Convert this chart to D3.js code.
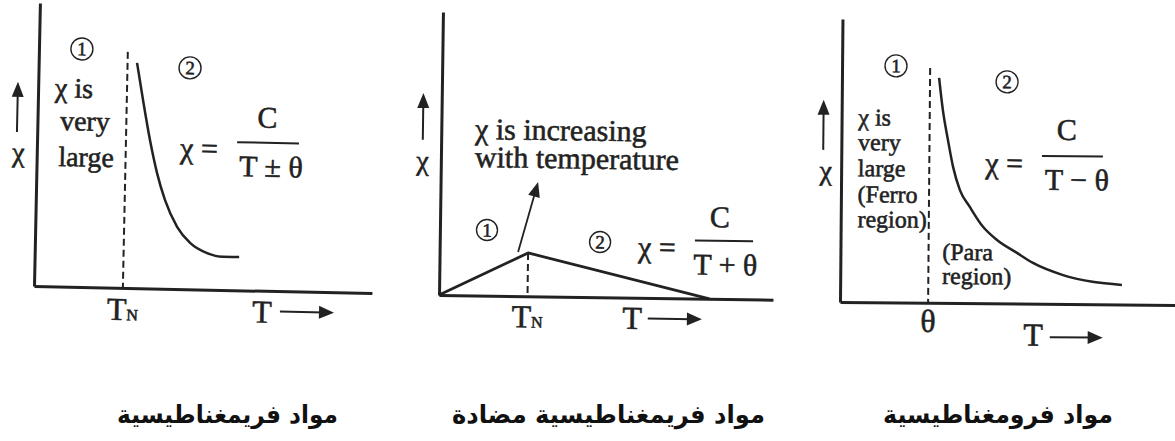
<!DOCTYPE html>
<html>
<head>
<meta charset="utf-8">
<script src="https://cdn.jsdelivr.net/npm/d3@7"></script>
<style>
  html, body { margin: 0; padding: 0; background: #fff; }
  svg { display: block; }
  text { font-family: "Liberation Serif", "DejaVu Serif", serif; fill: #222; stroke: #222; stroke-width: 0.55px; }
  text.ar { font-family: "DejaVu Sans", sans-serif; font-weight: bold; stroke: none; fill: #111; }
</style>
</head>
<body>
<svg id="chart" width="1175" height="441"></svg>
<script>
// Susceptibility χ against temperature T, arbitrary units on 0–100 axes
const ferriT   = [29.1, 31.1, 33.4, 35.7, 38.2, 42.0, 45.9, 51.0, 55.7, 60.5];
const ferriChi = [79.6, 66.5, 52.4, 40.8, 31.4, 21.9, 16.4, 12.9, 11.7, 11.8];

const antiT    = [0, 26.5, 81];
const antiChi  = [0, 15.3, 0];

const ferroT   = [29.0, 30.2, 31.8, 33.4, 35.5, 38.5, 42.5, 46.7, 52.7, 57.5, 66.5, 84.1];
const ferroChi = [79.5, 68.2, 57.6, 48.1, 39.9, 34.0, 27.0, 22.4, 17.9, 14.4, 10.2, 6.9];

// transition temperature of each material and the height of its dashed guide
const transitionT   = [26.3, 26.5, 26.3];
const transitionTop = [83.4, 15.3, 83.0];

// tick labels under the transition temperature
const tickNames = ["T", "T", "θ"];
const tickSubs  = ["N", "N", ""];

const panelTitles = ["مواد فريمغناطيسية", "مواد فريمغناطيسية مضادة", "مواد فرومغناطيسية"];

const series = [
  d3.zip(ferriT, ferriChi),
  d3.zip(antiT, antiChi),
  d3.zip(ferroT, ferroChi)
];

const INK = "#222";
const svg = d3.select("#chart");

// panel frames and the placement of their annotations (in axis units)
const panels = [
  {
    left: 34, bottom: 286, width: 338, height: 283, angle: 1.2,
    curve: d3.curveMonotoneX, stroke: 2.5,
    yArrow: { x: -6, y0: 54.3, y1: 72.0 }, chi: { x: -5.4, y: 43.8, size: 28 },
    circles: [{ n: "1", x: 12.7, y: 84.1 }, { n: "2", x: 44.8, y: 78.2 }], r: 11,
    notes: [
      { t: "χ is", x: 5.0, y: 66.9 },
      { t: "very", x: 6.7, y: 55.3 },
      { t: "large", x: 6.4, y: 42.6 }
    ], noteSize: 28,
    formula: { eqX: 42.4, eqY: 46.3, numX: 68.0, numY: 57.6, barX0: 59.2, barX1: 77.5, barY: 52.3,
               den: "T ± θ", denX: 69.4, denY: 40.3, size: 30 },
    tick: { y: -11.4, size: 32 },
    tAxis: { tx: 64.7, ty: -11.3, ax0: 72.9, ax1: 88.9, ay: -7.2 },
    title: { cx: 227.5, w: 221 }
  },
  {
    left: 439, bottom: 295, width: 334, height: 283, angle: 0.8,
    curve: d3.curveLinear, stroke: 2.8,
    yArrow: { x: -5.5, y0: 54.8, y1: 71.3 }, chi: { x: -5.5, y: 44.1, size: 28 },
    circles: [{ n: "1", x: 14.1, y: 23.2 }, { n: "2", x: 48.0, y: 19.5 }], r: 10.5,
    notes: [
      { t: "χ is increasing", x: 10.1, y: 55.3 },
      { t: "with temperature", x: 10.2, y: 45.4 }
    ], noteSize: 30,
    pointer: { x0: 23.5, y0: 15.6, x1: 29.2, y1: 40.4 },
    formula: { eqX: 59.4, eqY: 14.4, numX: 83.8, numY: 25.4, barX0: 76.4, barX1: 93.8, barY: 20.5,
               den: "T + θ", denX: 85.6, denY: 8.5, size: 30 },
    tick: { y: -11.0, size: 32 },
    tAxis: { tx: 55.0, ty: -11.0, ax0: 62.6, ax1: 78.8, ay: -7.3 },
    title: { cx: 608.5, w: 313 }
  },
  {
    left: 840, bottom: 302, width: 335, height: 283, angle: 0.5,
    curve: d3.curveMonotoneX, stroke: 2.5,
    yArrow: { x: -5.4, y0: 53.7, y1: 71.4 }, chi: { x: -4.6, y: 43.1, size: 28 },
    circles: [{ n: "1", x: 16.1, y: 83.6 }, { n: "2", x: 49.3, y: 78.3 }], r: 11,
    notes: [
      { t: "χ is", x: 5.0, y: 62.5 },
      { t: "very", x: 5.0, y: 53.7 },
      { t: "large", x: 5.0, y: 44.5 },
      { t: "(Ferro", x: 5.0, y: 35.3 },
      { t: "region)", x: 5.0, y: 26.5 },
      { t: "(Para", x: 30.4, y: 15.2 },
      { t: "region)", x: 30.4, y: 6.7 }
    ], noteSize: 24,
    formula: { eqX: 43.0, eqY: 46.0, numX: 67.3, numY: 58.0, barX0: 59.9, barX1: 78.1, barY: 52.2,
               den: "T − θ", denX: 70.4, denY: 40.3, size: 30 },
    tick: { y: -10.3, size: 32 },
    tAxis: { tx: 54.8, ty: -14.8, ax0: 62.7, ax1: 78.5, ay: -11.8 },
    title: { cx: 998, w: 230 }
  }
];

function arrowHead(g, x1, y1, x0, y0, len, half) {
  // filled triangle pointing from (x0,y0) towards (x1,y1)
  const a = Math.atan2(y1 - y0, x1 - x0);
  const bx = x1 - len * Math.cos(a), by = y1 - len * Math.sin(a);
  const px = -Math.sin(a) * half, py = Math.cos(a) * half;
  g.append("path")
    .attr("d", `M${x1},${y1}L${bx + px},${by + py}L${bx - px},${by - py}Z`)
    .attr("fill", INK);
}

panels.forEach((p, i) => {
  const x = d3.scaleLinear().domain([0, 100]).range([p.left, p.left + p.width]);
  const y = d3.scaleLinear().domain([0, 100]).range([p.bottom, p.bottom - p.height]);

  const g = svg.append("g")
    .attr("transform", `rotate(${p.angle},${p.left},${p.bottom})`);

  // axes: bare domain lines
  g.append("g")
    .attr("transform", `translate(0,${y(0)})`)
    .call(d3.axisBottom(x).tickValues([]).tickSizeOuter(0));
  g.append("g")
    .attr("transform", `translate(${x(0)},0)`)
    .call(d3.axisLeft(y).tickValues([]).tickSizeOuter(0));
  g.selectAll(".domain").attr("stroke", INK).attr("stroke-width", 3);

  // dashed guide at the transition temperature
  g.append("line")
    .attr("x1", x(transitionT[i])).attr("x2", x(transitionT[i]))
    .attr("y1", y(transitionTop[i])).attr("y2", y(0))
    .attr("stroke", INK).attr("stroke-width", 2)
    .attr("stroke-dasharray", "7,4");

  // χ(T) curve
  g.append("path")
    .datum(series[i])
    .attr("d", d3.line().x(d => x(d[0])).y(d => y(d[1])).curve(p.curve))
    .attr("fill", "none").attr("stroke", INK)
    .attr("stroke-width", p.stroke).attr("stroke-linejoin", "round");

  // y-axis caption: upward arrow with χ
  g.append("line")
    .attr("x1", x(p.yArrow.x)).attr("x2", x(p.yArrow.x))
    .attr("y1", y(p.yArrow.y0)).attr("y2", y(p.yArrow.y1) + 10)
    .attr("stroke", INK).attr("stroke-width", 2);
  arrowHead(g, x(p.yArrow.x), y(p.yArrow.y1), x(p.yArrow.x), y(p.yArrow.y0), 15, 6);
  g.append("text")
    .attr("x", x(p.chi.x)).attr("y", y(p.chi.y))
    .attr("text-anchor", "middle").attr("font-size", p.chi.size)
    .text("χ");

  // region markers ① ②
  p.circles.forEach(c => {
    g.append("circle")
      .attr("cx", x(c.x)).attr("cy", y(c.y)).attr("r", p.r)
      .attr("fill", "none").attr("stroke", INK).attr("stroke-width", 1.4);
    g.append("text")
      .attr("x", x(c.x)).attr("y", y(c.y) + 6.5)
      .attr("text-anchor", "middle").attr("font-size", 19)
      .text(c.n);
  });

  // region notes
  p.notes.forEach(n => {
    g.append("text")
      .attr("x", x(n.x)).attr("y", y(n.y))
      .attr("font-size", p.noteSize)
      .text(n.t);
  });

  // pointer from the peak up to the note
  if (p.pointer) {
    const q = p.pointer;
    g.append("line")
      .attr("x1", x(q.x0)).attr("y1", y(q.y0))
      .attr("x2", x(q.x1) - 3).attr("y2", y(q.y1) + 11)
      .attr("stroke", INK).attr("stroke-width", 1.8);
    arrowHead(g, x(q.x1), y(q.y1), x(q.x0), y(q.y0), 15, 6);
  }

  // Curie-type law χ = C / (T ± θ)
  const f = p.formula;
  g.append("text")
    .attr("x", x(f.eqX)).attr("y", y(f.eqY))
    .attr("font-size", f.size).text("χ =");
  g.append("text")
    .attr("x", x(f.numX)).attr("y", y(f.numY))
    .attr("text-anchor", "middle").attr("font-size", f.size).text("C");
  g.append("line")
    .attr("x1", x(f.barX0)).attr("x2", x(f.barX1))
    .attr("y1", y(f.barY)).attr("y2", y(f.barY))
    .attr("stroke", INK).attr("stroke-width", 2);
  g.append("text")
    .attr("x", x(f.denX)).attr("y", y(f.denY))
    .attr("text-anchor", "middle").attr("font-size", f.size).text(f.den);

  // transition temperature label
  const tk = g.append("text")
    .attr("x", x(transitionT[i])).attr("y", y(p.tick.y))
    .attr("text-anchor", "middle").attr("font-size", p.tick.size);
  tk.append("tspan").text(tickNames[i]);
  if (tickSubs[i]) tk.append("tspan").attr("font-size", 16).text(tickSubs[i]);

  // "T →" axis caption
  g.append("text")
    .attr("x", x(p.tAxis.tx)).attr("y", y(p.tAxis.ty))
    .attr("font-size", 32).text("T");
  g.append("line")
    .attr("x1", x(p.tAxis.ax0)).attr("x2", x(p.tAxis.ax1) - 10)
    .attr("y1", y(p.tAxis.ay)).attr("y2", y(p.tAxis.ay))
    .attr("stroke", INK).attr("stroke-width", 2);
  arrowHead(g, x(p.tAxis.ax1), y(p.tAxis.ay), x(p.tAxis.ax0), y(p.tAxis.ay), 15, 6.5);

  // material name beneath the panel
  const t = svg.append("text")
    .attr("class", "ar")
    .attr("direction", "rtl")
    .attr("text-anchor", "middle")
    .attr("font-size", 25)
    .text(panelTitles[i]);
  const w = t.node().getComputedTextLength();
  t.attr("transform", `translate(${p.title.cx},423) scale(${p.title.w / w},1)`);
});
</script>
</body>
</html>
